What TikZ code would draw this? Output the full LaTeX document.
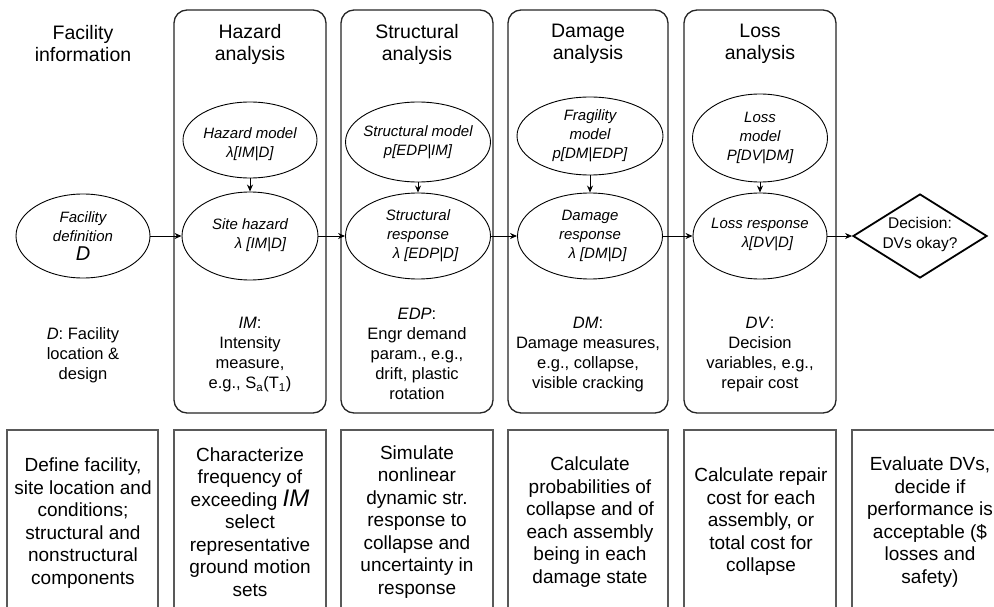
\documentclass[tikz,border=0pt]{standalone}
\usepackage{fontspec}
\setmainfont{Liberation Sans}
\usetikzlibrary{shapes.geometric,arrows.meta}
\begin{document}
\begin{tikzpicture}[x=1pt,y=-1pt,
  col/.style={draw=black!85, line width=1.3pt, rounded corners=13pt, rectangle, minimum height=403pt, inner sep=0pt},
  bbox/.style={draw=black!65, line width=1.2pt, rectangle, minimum height=200pt, inner sep=0pt},
  ell/.style={draw, ellipse, line width=0.9pt, inner sep=0pt},
  etext/.style={font=\fontsize{15}{19}\selectfont\itshape, align=center, inner sep=0pt},
  title/.style={font=\fontsize{19.5}{22}\selectfont, align=center, inner sep=0pt},
  mid/.style={font=\fontsize{16.5}{20}\selectfont, align=center, inner sep=0pt},
  btext/.style={font=\fontsize{19}{22.5}\selectfont, align=center, inner sep=0pt},
  arr/.style={-{Stealth[length=7pt,width=6pt]}, line width=0.9pt},
]
\clip (0,0) rectangle (994,607);
\useasboundingbox (0,0) rectangle (994,607);
\fill[white] (0,0) rectangle (994,607);

% columns
\node[col, minimum width=152pt] (hcol) at (250,211.5) {};
\node[col, minimum width=152pt] (scol) at (417,211.5) {};
\node[col, minimum width=160pt] (dcol) at (588,211.5) {};
\node[col, minimum width=152pt] (lcol) at (760,211.5) {};

% bottom boxes
\node[bbox, minimum width=151pt] (b0) at (82.5,530) {};
\node[bbox, minimum width=152pt] (b1) at (250,530) {};
\node[bbox, minimum width=152pt] (b2) at (417,530) {};
\node[bbox, minimum width=160pt] (b3) at (588,530) {};
\node[bbox, minimum width=152pt] (b4) at (760,530) {};
\node[bbox, minimum width=160pt] (b5) at (932,530) {};

% titles
\node[title] (t0) at (83,44) {Facility\\information};
\node[title] (t1) at (250,44) {Hazard\\analysis};
\node[title] (t2) at (417,44) {Structural\\analysis};
\node[title] (t3) at (588,44) {Damage\\analysis};
\node[title] (t4) at (760,44) {Loss\\analysis};

% ellipses
\node[ell, minimum width=134pt, minimum height=84pt] (fd) at (83,236) {};
\node[ell, minimum width=134pt, minimum height=76pt] (hm) at (250,140) {};
\node[ell, minimum width=136pt, minimum height=88pt] (sh) at (250,236) {};
\node[ell, minimum width=145pt, minimum height=80pt] (sm) at (418,142) {};
\node[ell, minimum width=145pt, minimum height=86pt] (sr) at (418,236) {};
\node[ell, minimum width=146pt, minimum height=78pt] (fm) at (590,136) {};
\node[ell, minimum width=145pt, minimum height=86pt] (dr) at (590,236) {};
\node[ell, minimum width=135pt, minimum height=88pt] (lm) at (760,138) {};
\node[ell, minimum width=134pt, minimum height=86pt] (lr) at (760,236) {};
\node[draw, diamond, line width=1.8pt, inner sep=0pt, minimum width=134pt, minimum height=84pt] (dec) at (920,236) {};

% ellipse texts
\node[etext] (fdt) at (fd) {Facility\\definition\\{\fontsize{20}{22}\selectfont D}};
\node[etext] (hmt) at ([yshift=-4pt]hm.center) {Hazard model\\λ[IM|D]};
\node[etext] (sht) at ([yshift=1pt]sh.center) {Site hazard\\\hspace*{1.4em}λ [IM|D]};
\node[etext] (smt) at (sm) {Structural model\\p[EDP|IM]};
\node[etext] (srt) at (sr) {Structural\\response\\\hspace*{1em}λ [EDP|D]};
\node[etext] (fmt) at (fm) {Fragility\\model\\p[DM|EDP]};
\node[etext] (drt) at (dr) {Damage\\response\\\hspace*{1em}λ [DM|D]};
\node[etext] (lmt) at (lm) {Loss\\model\\P[DV|DM]};
\node[etext] (lrt) at ([yshift=1pt]lr.center) {Loss response\\\hspace*{1em}λ[DV|D]};
\node[font=\fontsize{15.5}{20}\selectfont, align=center, inner sep=0pt] (dect) at ([yshift=2pt]dec.center) {Decision:\\DVs okay?};

% arrows
\draw[arr] (fd.east) -- (sh.west);
\draw[arr] (hm.south) -- (sh.north);
\draw[arr] (sh.east) -- (sr.west);
\draw[arr] (sm.south) -- (sr.north);
\draw[arr] (sr.east) -- (dr.west);
\draw[arr] (fm.south) -- (dr.north);
\draw[arr] (dr.east) -- (lr.west);
\draw[arr] (lm.south) -- (lr.north);
\draw[arr] (lr.east) -- (dec.west);

% middle texts
\node[mid] (m0) at (83,355) {\textit{D}: Facility\\location \&\\design};
\node[mid] (m1) at (250,355) {\textit{IM}:\\Intensity\\measure,\\e.g., S\textsubscript{a}(T\textsubscript{1})};
\node[mid] (m2) at (417,354) {\textit{EDP}:\\Engr demand\\param., e.g.,\\drift, plastic\\rotation};
\node[mid] (m3) at (588,355) {\textit{DM}:\\Damage measures,\\e.g., collapse,\\visible cracking};
\node[mid] (m4) at (760,355) {\textit{DV}:\\Decision\\variables, e.g.,\\repair cost};

% bottom texts
\node[btext] (bt0) at (83,523) {Define facility,\\site location and\\conditions;\\structural and\\nonstructural\\components};
\node[btext] (bt1) at (250,522) {Characterize\\frequency of\\exceeding {\fontsize{24}{24}\selectfont\itshape IM}\\select\\representative\\ground motion\\sets};
\node[btext] (bt2) at (417,522) {Simulate\\nonlinear\\dynamic str.\\response to\\collapse and\\uncertainty in\\response};
\node[btext] (bt3) at (590,522) {Calculate\\probabilities of\\collapse and of\\each assembly\\being in each\\damage state};
\node[btext] (bt4) at (761,522) {Calculate repair\\cost for each\\assembly, or\\total cost for\\collapse};
\node[btext] (bt5) at (930,522) {Evaluate DVs,\\decide if\\performance is\\acceptable (\$\\losses and\\safety)};
\end{tikzpicture}
\end{document}
